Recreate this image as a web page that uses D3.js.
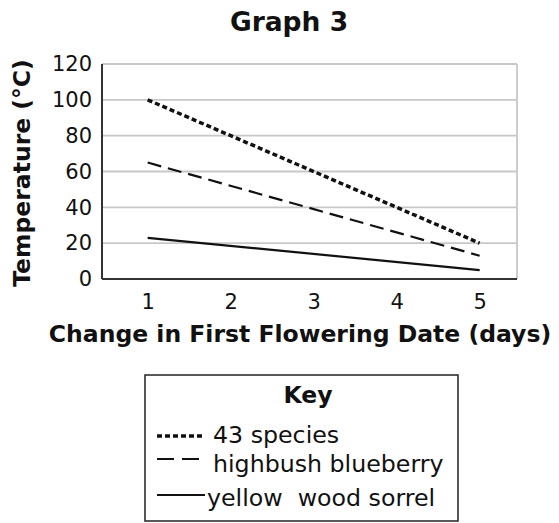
<!DOCTYPE html>
<html>
<head>
<meta charset="utf-8">
<script src="https://cdn.jsdelivr.net/npm/d3@7"></script>
<style>
  body { margin: 0; background: white; }
  text { font-family: "DejaVu Sans", Verdana, sans-serif; fill: #111; }
</style>
</head>
<body>
<script>
// data
var days = [1, 2, 3, 4, 5];
var yTicks = [0, 20, 40, 60, 80, 100, 120];
var seriesNames = ["43 species", "highbush blueberry", "yellow  wood sorrel"];
var species43 = [[1, 100], [5, 20]];
var blueberry = [[1, 65], [5, 13]];
var sorrel = [[1, 23], [5, 5]];
var dashes = ["5,3", "14,7", null];
var keyDashes = ["5,3", "17,8", null];
var widths = [3.5, 2.2, 2.2];

const svg = d3.select("body").append("svg")
    .attr("width", 559).attr("height", 523);

const plotL = 102, plotR = 517, plotT = 64, plotB = 279;

const x = d3.scaleLinear().domain([0.45, 5.45]).range([plotL, plotR]);
const y = d3.scaleLinear().domain([0, 120]).range([plotB, plotT]);

// grid
svg.append("g").selectAll("line").data(yTicks.slice(1)).enter()
  .append("line")
    .attr("x1", plotL).attr("x2", plotR)
    .attr("y1", d => y(d)).attr("y2", d => y(d))
    .attr("stroke", "#c8c8c8").attr("stroke-width", 1.8);
svg.append("line")
    .attr("x1", plotR).attr("x2", plotR).attr("y1", y(120)).attr("y2", y(0))
    .attr("stroke", "#c8c8c8").attr("stroke-width", 1.8);

// axes
const yAxis = d3.axisLeft(y).tickValues(yTicks).tickSize(0).tickPadding(10)
    .tickFormat(d3.format("d"));
const xAxis = d3.axisBottom(x).tickValues(days).tickSize(0).tickPadding(15)
    .tickFormat(d3.format("d"));

const yAxisG = svg.append("g").attr("transform", `translate(${plotL},0)`).call(yAxis);
const xAxisG = svg.append("g").attr("transform", `translate(0,${plotB})`).call(xAxis);
[yAxisG, xAxisG].forEach(g => {
  g.attr("font-size", 21).attr("font-family", null);
  g.select(".domain").attr("stroke", "#333").attr("stroke-width", 2);
  g.selectAll("text").attr("fill", "#111");
});
xAxisG.select(".domain").attr("d", `M${plotL},0H${plotR}`);
yAxisG.select(".domain").attr("d", `M0,${plotT}V${plotB}`);

// lines
const line = d3.line().x(d => x(d[0])).y(d => y(d[1]));
[species43, blueberry, sorrel].forEach((s, i) => {
  svg.append("path").datum(s)
    .attr("d", line)
    .attr("fill", "none")
    .attr("stroke", "#111")
    .attr("stroke-width", widths[i])
    .attr("stroke-dasharray", dashes[i]);
});

// titles
svg.append("text")
    .attr("x", 289).attr("y", 31)
    .attr("text-anchor", "middle")
    .attr("font-size", 26.5).attr("font-weight", "bold")
    .text("Graph 3");

svg.append("text")
    .attr("x", 300).attr("y", 342)
    .attr("text-anchor", "middle")
    .attr("font-size", 23.5).attr("font-weight", "bold")
    .text("Change in First Flowering Date (days)");

svg.append("text")
    .attr("transform", "translate(30,173) rotate(-90)")
    .attr("text-anchor", "middle")
    .attr("font-size", 23.5).attr("font-weight", "bold")
    .text("Temperature (\u00b0C)");

// key
const key = svg.append("g");
key.append("rect")
    .attr("x", 145).attr("y", 375).attr("width", 313).attr("height", 146)
    .attr("fill", "white").attr("stroke", "#222").attr("stroke-width", 1.5);
key.append("text")
    .attr("x", 308).attr("y", 403)
    .attr("text-anchor", "middle")
    .attr("font-size", 23.5).attr("font-weight", "bold")
    .text("Key");

const rowY = [436, 459, 495];
const rowEnd = [205, 200, 205];
const textY = [443, 472, 506];
seriesNames.forEach((n, i) => {
  key.append("line")
    .attr("x1", 157).attr("x2", rowEnd[i])
    .attr("y1", rowY[i]).attr("y2", rowY[i])
    .attr("stroke", "#111")
    .attr("stroke-width", widths[i])
    .attr("stroke-dasharray", keyDashes[i]);
  key.append("text")
    .attr("x", i == 2 ? 207 : 213).attr("y", textY[i])
    .attr("font-size", 23.7)
    .style("white-space", "pre")
    .text(n);
});
</script>
</body>
</html>
